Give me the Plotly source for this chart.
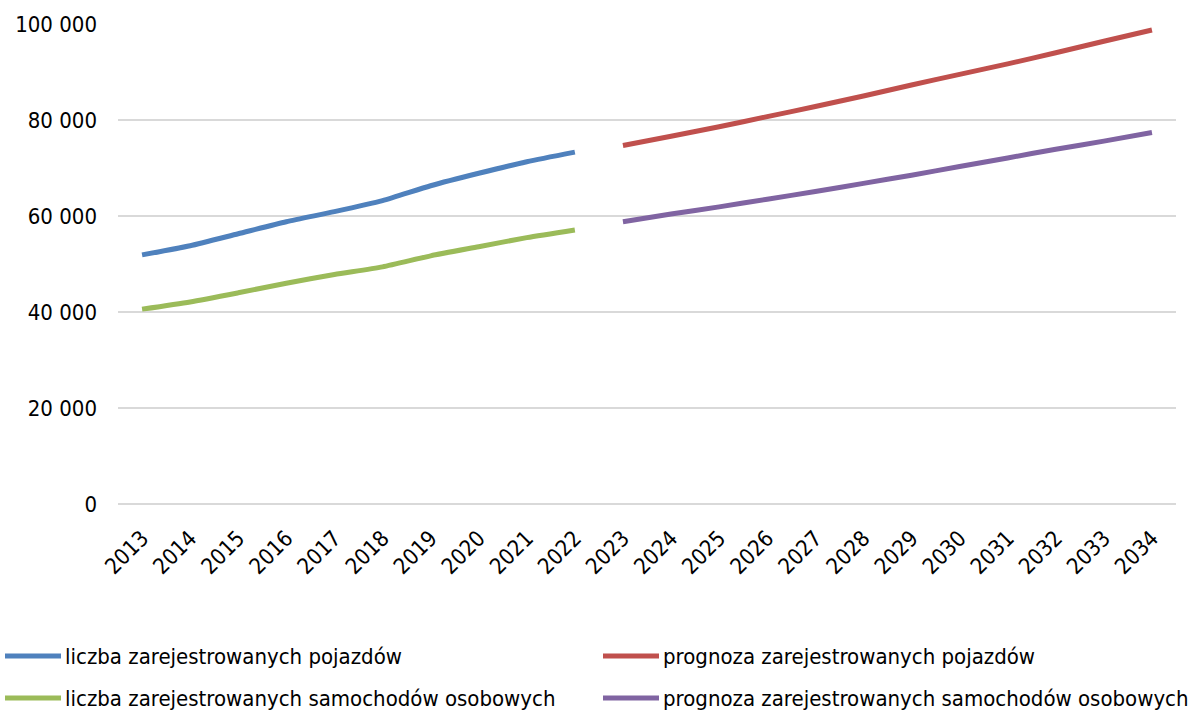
import plotly.graph_objects as go

years = [str(y) for y in range(2013, 2035)]
hist_years = years[:10]
fcst_years = years[10:]

# values in thousands
pojazdy = [51.9, 53.8, 56.3, 58.8, 60.9, 63.2, 66.3, 68.9, 71.3, 73.3]
samochody = [40.6, 42.1, 44.0, 46.0, 47.8, 49.4, 51.7, 53.6, 55.5, 57.1]
prognoza_pojazdy = [74.7, 76.6, 78.6, 80.7, 82.8, 85.0, 87.3, 89.5, 91.7, 94.0, 96.4, 98.75]
prognoza_samochody = [58.8, 60.4, 61.9, 63.5, 65.1, 66.8, 68.5, 70.3, 72.1, 73.9, 75.6, 77.4]

y_ticks = [0, 20000, 40000, 60000, 80000, 100000]
y_tick_labels = ["0", "20 000", "40 000", "60 000", "80 000", "100 000"]

series = [
    ("liczba zarejestrowanych pojazdów", hist_years, pojazdy, "#4F81BD"),
    ("prognoza zarejestrowanych pojazdów", fcst_years, prognoza_pojazdy, "#C0504D"),
    ("liczba zarejestrowanych samochodów osobowych", hist_years, samochody, "#9BBB59"),
    ("prognoza zarejestrowanych samochodów osobowych", fcst_years, prognoza_samochody, "#8064A2"),
]

FONT = "DejaVu Sans Condensed, DejaVu Sans"
W, H = 1199, 713
ML, MR, MT, MB = 118, 23, 24, 209
PW, PH = W - ML - MR, H - MT - MB


def px_x(px):
    return (px - ML) / PW


def px_y(py):
    return (H - MB - py) / PH


fig = go.Figure()
for name, xs, vals, color in series:
    fig.add_trace(go.Scatter(
        x=xs, y=[v * 1000 for v in vals], name=name, mode="lines",
        line=dict(color=color, width=5, shape="spline", smoothing=0.6),
        showlegend=False,
    ))

# two-column legend below the axis
legend_slots = [(5, 656), (603, 656), (5, 698), (603, 698)]
for (name, _, _, color), (lx, ly) in zip(series, legend_slots):
    fig.add_shape(
        type="line", xref="paper", yref="paper",
        x0=px_x(lx), x1=px_x(lx + 56), y0=px_y(ly), y1=px_y(ly),
        line=dict(color=color, width=5), layer="above",
    )
    fig.add_annotation(
        text=name, xref="paper", yref="paper",
        x=px_x(lx + 58), y=px_y(ly), xanchor="left", yanchor="middle",
        showarrow=False, font=dict(family=FONT, size=22, color="#000000"),
    )

fig.update_layout(
    width=W, height=H,
    margin=dict(l=ML, r=MR, t=MT, b=MB),
    plot_bgcolor="white", paper_bgcolor="white",
    font=dict(family=FONT, size=22, color="#000000"),
    showlegend=False,
)
fig.update_xaxes(
    type="category", categoryorder="array", categoryarray=years,
    range=[-0.5, 21.5], tickangle=-45, showgrid=False,
    showline=False, ticks="", tickfont=dict(size=22),
    ticklabelstandoff=16,
)
fig.update_yaxes(
    range=[0, 100000], tickvals=y_ticks, ticktext=y_tick_labels,
    showgrid=True, gridcolor="#D9D9D9", gridwidth=1.5,
    zeroline=True, zerolinecolor="#D9D9D9", zerolinewidth=1.5,
    ticks="", ticklabelstandoff=20, tickfont=dict(size=22),
)

fig.write_html("out.html")
